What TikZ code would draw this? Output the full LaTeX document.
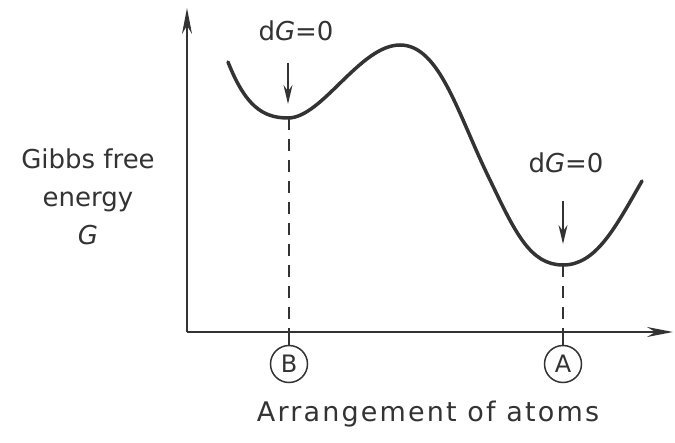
\documentclass[tikz,border=0pt]{standalone}
\usepackage{fontspec}
\setmainfont{DejaVu Sans}
\usetikzlibrary{arrows.meta}
\begin{document}
\begin{tikzpicture}[x=1pt,y=-1pt,
  axis/.style={line width=1.8pt,draw=black!80,-{Stealth[length=26pt,width=10pt]}},
  curve/.style={line width=3.5pt,draw=black!80,line cap=round},
  guide/.style={line width=1.5pt,draw=black!80,dash pattern=on 12pt off 9pt},
  marker/.style={line width=1.5pt,draw=black!80,-{Stealth[length=19pt,width=9pt]}},
  posnode/.style={circle,draw=black!80,line width=1.5pt,minimum size=37pt,inner sep=0pt,font=\fontsize{24}{26}\selectfont,text=black!80},
  lab/.style={font=\fontsize{26}{29}\selectfont,text=black!80},
]
\useasboundingbox (0,0) rectangle (675,443);
\coordinate (O) at (187,332);
\coordinate (ytop) at (187,8);
\coordinate (xend) at (673,332);
\draw[axis] (O) -- (ytop);
\draw[axis] (O) -- (xend);
% curve
\coordinate (c0) at (228,62);
\coordinate (mB) at (288,118);
\coordinate (mx) at (400,45);
\coordinate (mid) at (490,180);
\coordinate (mA) at (563,265);
\coordinate (c5) at (642,181);
\draw[curve] (c0) .. controls (245,105) and (262,118) .. (mB)
  .. controls (322,118) and (360,45) .. (mx)
  .. controls (440,45) and (458,115) .. (mid)
  .. controls (515,232) and (530,265) .. (mA)
  .. controls (596,265) and (615,228) .. (c5);
% positions
\node[posnode] (B) at (289,364) {B};
\node[posnode] (A) at (563,364) {A};
\coordinate (Bx) at (289,332);
\coordinate (Ax) at (563,332);
\draw[guide] (mB) ++(1,0) -- (Bx);
\draw[guide] (mA) -- (Ax);
\draw[line width=1.5pt,draw=black!80] (Bx) -- (B.north);
\draw[line width=1.5pt,draw=black!80] (Ax) -- (A.north);
% arrows
\coordinate (aBs) at (288,63);
\coordinate (aBe) at (288,104);
\coordinate (aAs) at (563,201);
\coordinate (aAe) at (563,244);
\draw[marker] (aBs) -- (aBe);
\draw[marker] (aAs) -- (aAe);
\node[lab] (dGB) at (296,31) {d\textit{G}=0};
\node[lab] (dGA) at (566,163) {d\textit{G}=0};
\node[lab,align=center] (ylab) at (88,197) {Gibbs free\\[9pt]energy\\[9pt]\textit{G}};
\node[lab,font=\addfontfeature{LetterSpace=8}\fontsize{27}{30}\selectfont] (xlab) at (428,414) {Arrangement of atoms};
\end{tikzpicture}
\end{document}
